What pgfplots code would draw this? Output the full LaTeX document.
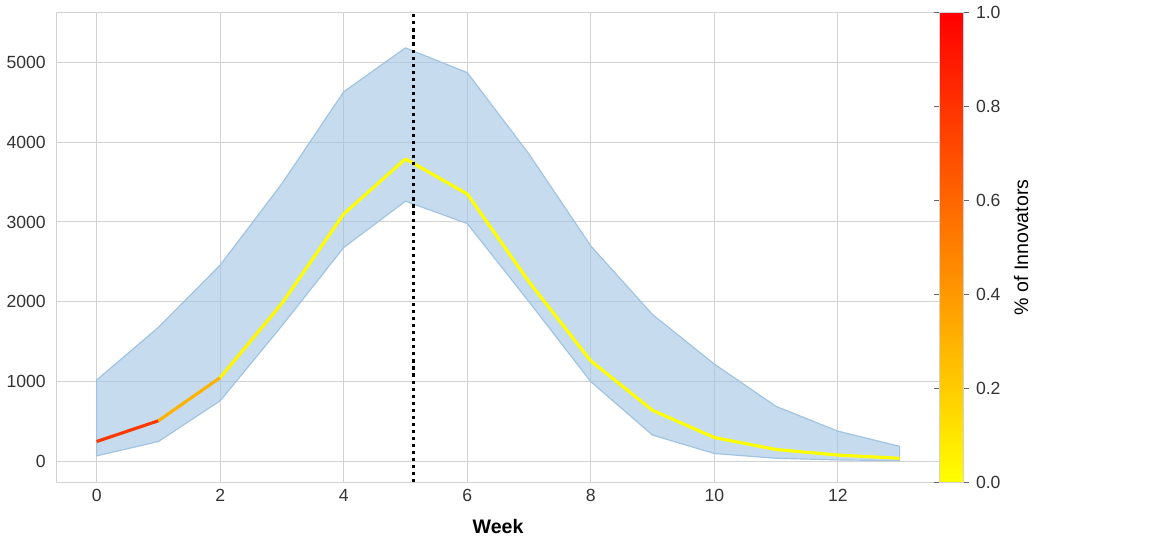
\documentclass[border=0pt]{standalone}
\usepackage{pgfplots}
\pgfplotsset{compat=1.18}
\usepackage{fontspec}
\setmainfont{Liberation Sans}
\definecolor{band}{RGB}{160,195,225}
\definecolor{gridc}{RGB}{210,210,210}
\begin{document}
\begin{tikzpicture}
\begin{axis}[
  scale only axis, width=451.5pt, height=240pt,
  xmin=-0.65, xmax=13.65, ymin=-260, ymax=5620,
  xtick={0,2,4,6,8,10,12}, ytick={0,1000,2000,3000,4000,5000},
  grid=major, grid style={gridc, line width=0.5pt},
  axis line style={gridc, line width=0.6pt}, tick style={draw=none},
  tick label style={font=\fontsize{9}{10}\selectfont, text=black!80},
  yticklabel style={xshift=-2pt},
  /pgf/number format/assume math mode=true,
  scaled y ticks=false, yticklabel style={/pgf/number format/1000 sep={}},
  xlabel={\textbf{Week}}, xlabel style={font=\fontsize{10}{12}\selectfont, yshift=-2pt},
  colormap={ar}{rgb=(1,1,0) rgb=(1,0,0)},
  point meta min=0, point meta max=1,
  colorbar,
  colorbar style={at={(1,1)}, anchor=north west, xshift=28pt, width=12pt,
    ytick={0,0.2,0.4,0.6,0.8,1.0},
    yticklabel style={/pgf/number format/.cd, fixed, fixed zerofill, precision=1, assume math mode=true},
    tick label style={font=\fontsize{9}{10}\selectfont, text=black!80},
    axis line style={gridc}, tick style={draw=black!60, line width=0.4pt},
    tick align=outside, major tick length=3pt,
    ylabel={\% of Innovators}, ylabel style={font=\fontsize{9}{10}\selectfont, text=black!80, yshift=-4pt},
    yticklabel pos=right, ylabel near ticks},
]
\addplot[fill=band, fill opacity=0.6, draw=band, line width=0.6pt] coordinates {
(0,1020)(1,1680)(2,2460)(3,3480)(4,4630)(5,5180)(6,4870)(7,3850)(8,2700)(9,1840)(10,1220)(11,690)(12,380)(13,190)
(13,10)(12,20)(11,40)(10,100)(9,330)(8,1000)(7,2000)(6,2980)(5,3260)(4,2680)(3,1700)(2,760)(1,250)(0,70)} --cycle;
\addplot[mesh, shader=interp, point meta=explicit, line width=1.6pt] table[meta=m] {
x y m
0 250 1.0
1 510 0.55
2 1050 0.05
3 1980 0.01
4 3100 0
5 3790 0
6 3350 0
7 2250 0
8 1260 0
9 640 0
10 300 0
11 150 0
12 80 0
13 40 0
};
\draw[black, line width=1.6pt, dotted] (axis cs:5.13,-260) -- (axis cs:5.13,5620);
\end{axis}
\path (560pt,0) -- (560pt,1pt);
\end{tikzpicture}
\end{document}
